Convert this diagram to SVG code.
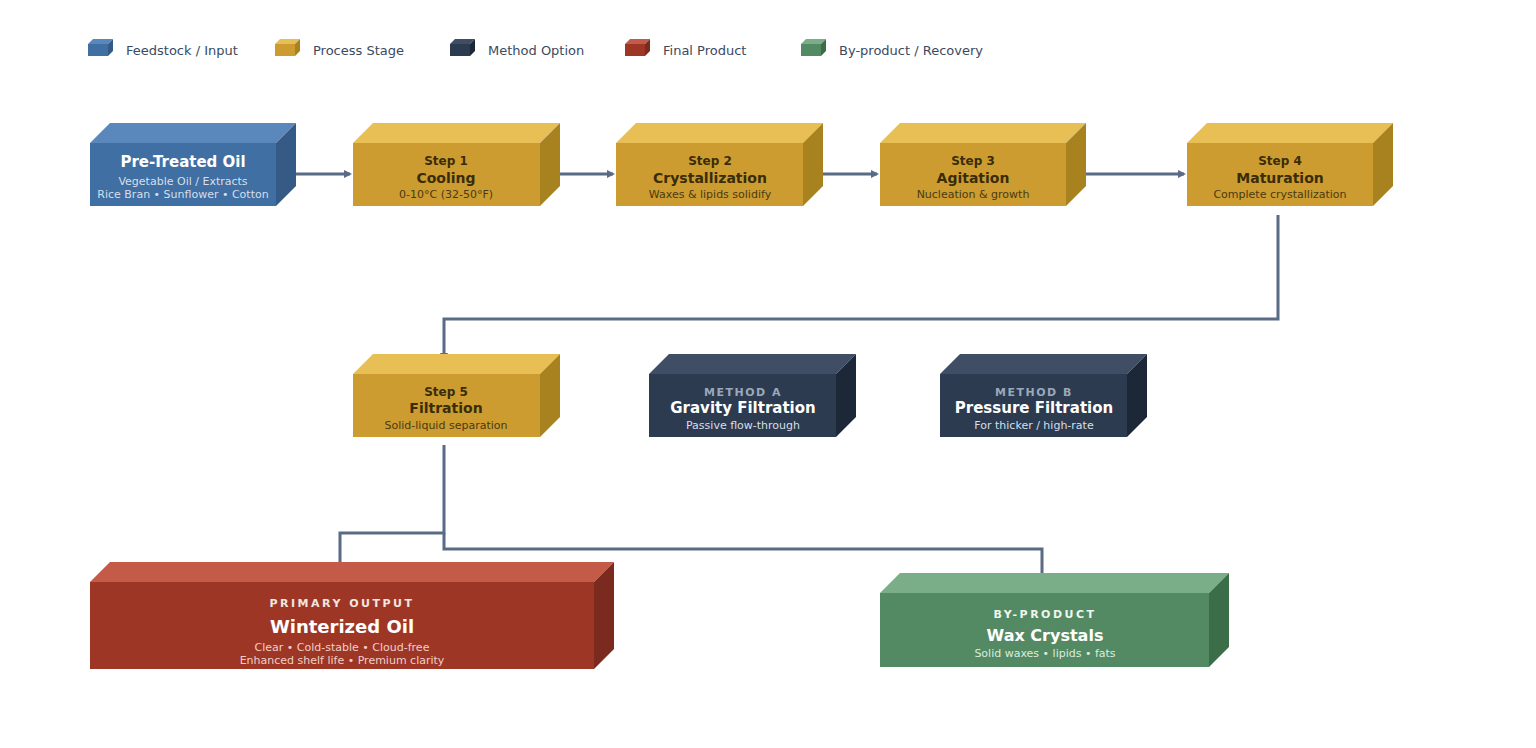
<svg xmlns="http://www.w3.org/2000/svg" width="1536" height="748" viewBox="0 0 1536 748">
<style>
text{font-family:"DejaVu Sans",sans-serif;text-anchor:middle}
.lg{font-size:13px;fill:#3b4a5e;text-anchor:start}
.c{fill:none;stroke:#5a6b85;stroke-width:3}
.st{font-size:12px;font-weight:bold;fill:#3a2c08}
.ti{font-size:14px;font-weight:bold;fill:#3a2c08}
.su{font-size:11px;fill:#4a3a10}
.wt{font-size:15px;font-weight:bold;fill:#fff}
.ws{font-size:11px;fill:#d6dfea}
.mk{font-size:11px;font-weight:bold;fill:#9aa8bb;letter-spacing:1.5px}
.ok{font-size:11px;font-weight:bold;fill:#f2e6e0;letter-spacing:2.5px}
</style>
<defs>
<marker id="ar" markerWidth="8" markerHeight="8" refX="6" refY="4" orient="auto" markerUnits="userSpaceOnUse" viewBox="0 0 8 8"><path d="M0,0L8,4L0,8z" fill="#5a6b85"/></marker>
</defs>
<rect width="1536" height="748" fill="#fff"/>
<g id="legend">
<path d="M88,44h20l5,-5h-20z" fill="#5a88bd"/><path d="M108,44l5,-5v12l-5,5z" fill="#355a85"/><rect x="88" y="44" width="20" height="12" fill="#3f6fa3"/>
<text class="lg" x="126" y="55">Feedstock / Input</text>
<path d="M275,44h20l5,-5h-20z" fill="#e8bf55"/><path d="M295,44l5,-5v12l-5,5z" fill="#a8821f"/><rect x="275" y="44" width="20" height="12" fill="#cc9c30"/>
<text class="lg" x="313" y="55">Process Stage</text>
<path d="M450,44h20l5,-5h-20z" fill="#3f4e64"/><path d="M470,44l5,-5v12l-5,5z" fill="#1c2838"/><rect x="450" y="44" width="20" height="12" fill="#2c3b50"/>
<text class="lg" x="488" y="55">Method Option</text>
<path d="M625,44h20l5,-5h-20z" fill="#c45b48"/><path d="M645,44l5,-5v12l-5,5z" fill="#7a2a1e"/><rect x="625" y="44" width="20" height="12" fill="#9e3626"/>
<text class="lg" x="663" y="55">Final Product</text>
<path d="M801,44h20l5,-5h-20z" fill="#7aae88"/><path d="M821,44l5,-5v12l-5,5z" fill="#3b6e48"/><rect x="801" y="44" width="20" height="12" fill="#548a63"/>
<text class="lg" x="839" y="55">By-product / Recovery</text>
</g>
<g id="connectors">
<line class="c" x1="296" y1="174" x2="350" y2="174" marker-end="url(#ar)"/>
<line class="c" x1="560" y1="174" x2="613" y2="174" marker-end="url(#ar)"/>
<line class="c" x1="823" y1="174" x2="877" y2="174" marker-end="url(#ar)"/>
<line class="c" x1="1086" y1="174" x2="1184" y2="174" marker-end="url(#ar)"/>
<path class="c" d="M1278,215V319H444V359" marker-end="url(#ar)"/>
<path class="c" d="M444,445V533H340V570" marker-end="url(#ar)"/>
<path class="c" d="M444,533V549H1042V590" marker-end="url(#ar)"/>
</g>
<g id="n0">
<path d="M90,143l20,-20h186l-20,20z" fill="#5a88bd"/><path d="M276,143l20,-20v63l-20,20z" fill="#355a85"/><rect x="90" y="143" width="186" height="63" fill="#3f6fa3"/>
<text class="wt" x="183" y="167">Pre-Treated Oil</text>
<text class="ws" x="183" y="185">Vegetable Oil / Extracts</text>
<text class="ws" x="183" y="198">Rice Bran • Sunflower • Cotton</text>
</g>
<g id="n1">
<path d="M353,143l20,-20h187l-20,20z" fill="#e8bf55"/><path d="M540,143l20,-20v63l-20,20z" fill="#a8821f"/><rect x="353" y="143" width="187" height="63" fill="#cc9c30"/>
<text class="st" x="446" y="165">Step 1</text><text class="ti" x="446" y="183">Cooling</text><text class="su" x="446" y="198">0-10°C (32-50°F)</text>
</g>
<g id="n2">
<path d="M616,143l20,-20h187l-20,20z" fill="#e8bf55"/><path d="M803,143l20,-20v63l-20,20z" fill="#a8821f"/><rect x="616" y="143" width="187" height="63" fill="#cc9c30"/>
<text class="st" x="710" y="165">Step 2</text><text class="ti" x="710" y="183">Crystallization</text><text class="su" x="710" y="198">Waxes &amp; lipids solidify</text>
</g>
<g id="n3">
<path d="M880,143l20,-20h186l-20,20z" fill="#e8bf55"/><path d="M1066,143l20,-20v63l-20,20z" fill="#a8821f"/><rect x="880" y="143" width="186" height="63" fill="#cc9c30"/>
<text class="st" x="973" y="165">Step 3</text><text class="ti" x="973" y="183">Agitation</text><text class="su" x="973" y="198">Nucleation &amp; growth</text>
</g>
<g id="n4">
<path d="M1187,143l20,-20h186l-20,20z" fill="#e8bf55"/><path d="M1373,143l20,-20v63l-20,20z" fill="#a8821f"/><rect x="1187" y="143" width="186" height="63" fill="#cc9c30"/>
<text class="st" x="1280" y="165">Step 4</text><text class="ti" x="1280" y="183">Maturation</text><text class="su" x="1280" y="198">Complete crystallization</text>
</g>
<g id="n5">
<path d="M353,374l20,-20h187l-20,20z" fill="#e8bf55"/><path d="M540,374l20,-20v63l-20,20z" fill="#a8821f"/><rect x="353" y="374" width="187" height="63" fill="#cc9c30"/>
<text class="st" x="446" y="396">Step 5</text><text class="ti" x="446" y="413">Filtration</text><text class="su" x="446" y="429">Solid-liquid separation</text>
</g>
<g id="mA">
<path d="M649,374l20,-20h187l-20,20z" fill="#3f4e64"/><path d="M836,374l20,-20v63l-20,20z" fill="#1c2838"/><rect x="649" y="374" width="187" height="63" fill="#2c3b50"/>
<text class="mk" x="743" y="396">METHOD A</text><text class="wt" x="743" y="413">Gravity Filtration</text><text class="ws" x="743" y="429" fill="#c0cad8">Passive flow-through</text>
</g>
<g id="mB">
<path d="M940,374l20,-20h187l-20,20z" fill="#3f4e64"/><path d="M1127,374l20,-20v63l-20,20z" fill="#1c2838"/><rect x="940" y="374" width="187" height="63" fill="#2c3b50"/>
<text class="mk" x="1034" y="396">METHOD B</text><text class="wt" x="1034" y="413">Pressure Filtration</text><text class="ws" x="1034" y="429">For thicker / high-rate</text>
</g>
<g id="out">
<path d="M90,582l20,-20h504l-20,20z" fill="#c45b48"/><path d="M594,582l20,-20v87l-20,20z" fill="#7a2a1e"/><rect x="90" y="582" width="504" height="87" fill="#9e3626"/>
<text class="ok" x="342" y="607">PRIMARY OUTPUT</text>
<text class="wt" x="342" y="633" style="font-size:18px">Winterized Oil</text>
<text class="ws" x="342" y="651" fill="#efcfc6" style="fill:#efcfc6">Clear • Cold-stable • Cloud-free</text>
<text class="ws" x="342" y="664" style="fill:#efcfc6">Enhanced shelf life • Premium clarity</text>
</g>
<g id="wax">
<path d="M880,593l20,-20h329l-20,20z" fill="#7aae88"/><path d="M1209,593l20,-20v74l-20,20z" fill="#3b6e48"/><rect x="880" y="593" width="329" height="74" fill="#548a63"/>
<text class="ok" x="1045" y="618" style="fill:#eef6ef">BY-PRODUCT</text>
<text class="wt" x="1045" y="641" style="font-size:16px">Wax Crystals</text>
<text class="ws" x="1045" y="657" style="fill:#dcecdf">Solid waxes • lipids • fats</text>
</g>
</svg>
